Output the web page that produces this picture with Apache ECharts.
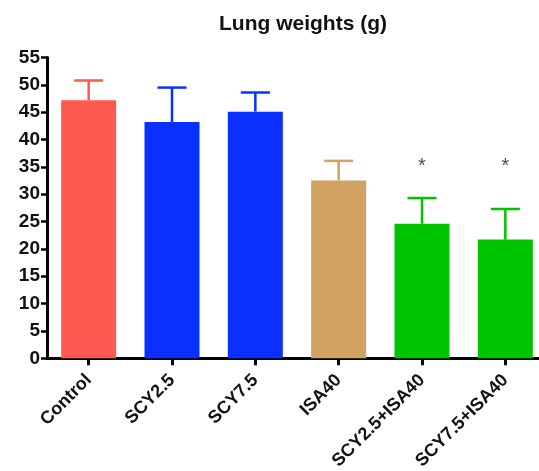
<!DOCTYPE html>
<html><head><meta charset="utf-8">
<script src="https://cdn.jsdelivr.net/npm/echarts@6/dist/echarts.min.js"></script>
<style>html,body{margin:0;padding:0;background:#fff}#c{width:539px;height:471px}</style>
</head><body><div id="c"></div>
<script>
const categories = ['Control','SCY2.5','SCY7.5','ISA40','SCY2.5+ISA40','SCY7.5+ISA40'];
const means = [47.2, 43.2, 45.1, 32.5, 24.6, 21.7];
const errorTops = [50.8, 49.5, 48.6, 36.1, 29.3, 27.3];
const barColors = ['#FF5A52','#0A30FF','#0A30FF','#D2A262','#00C400','#00C400'];
const starValues = [null, null, null, null, 35.1, 35.1];
const yTicks = [0,5,10,15,20,25,30,35,40,45,50,55];

const chart = echarts.init(document.getElementById('c'));
chart.setOption({
  animation: false,
  title: {text: 'Lung weights (g)', left: 298, top: 9, textAlign: 'center',
    textStyle: {fontFamily: 'Liberation Sans', fontWeight: 'bold', fontSize: 21, color: '#111'}},
  grid: {left: 47, top: 57.5, width: 500, bottom: 112.7, containLabel: false, outerBoundsMode: 'none'},
  xAxis: {type: 'category', data: categories,
    axisLine: {lineStyle: {color: '#000', width: 3}},
    axisTick: {show: true, alignWithLabel: true, length: 7, lineStyle: {color: '#000', width: 3}},
    axisLabel: {rotate: 45, interval: 0, margin: 19, fontFamily: 'Liberation Sans', fontWeight: 'bold', fontSize: 18, color: '#111'}},
  yAxis: {type: 'value', min: yTicks[0], max: yTicks[yTicks.length-1], interval: 5,
    splitLine: {show: false},
    axisLine: {show: true, lineStyle: {color: '#000', width: 3}},
    axisTick: {show: true, length: 6, lineStyle: {color: '#000', width: 2.5}},
    axisLabel: {margin: 7, fontFamily: 'Liberation Sans', fontWeight: 'bold', fontSize: 19, color: '#111'}},
  series: [
    {type: 'bar', barWidth: 55, z: 2,
      data: means.map((v,i)=>({value: v, itemStyle: {color: barColors[i]}}))},
    {type: 'custom', z: 1,
      data: errorTops.map((t,i)=>[i, means[i], t]),
      renderItem: function(params, api){
        const i = api.value(0);
        const b = api.coord([i, api.value(1)]);
        const t = api.coord([i, api.value(2)]);
        const c = barColors[i];
        const hw = 14.5;
        return {type: 'group', children: [
          {type: 'line', shape: {x1: b[0], y1: b[1], x2: t[0], y2: t[1]}, style: {stroke: c, lineWidth: 2.5}},
          {type: 'line', shape: {x1: t[0]-hw, y1: t[1], x2: t[0]+hw, y2: t[1]}, style: {stroke: c, lineWidth: 2.5}}
        ]};
      }},
    {type: 'scatter', symbolSize: 0, z: 3,
      data: starValues.map((v,i)=> v===null ? null : [i, v]).filter(d=>d),
      label: {show: true, position: 'inside', formatter: '*', fontFamily: 'Liberation Sans', fontSize: 20, color: '#222'}}
  ]
});
</script></body></html>
